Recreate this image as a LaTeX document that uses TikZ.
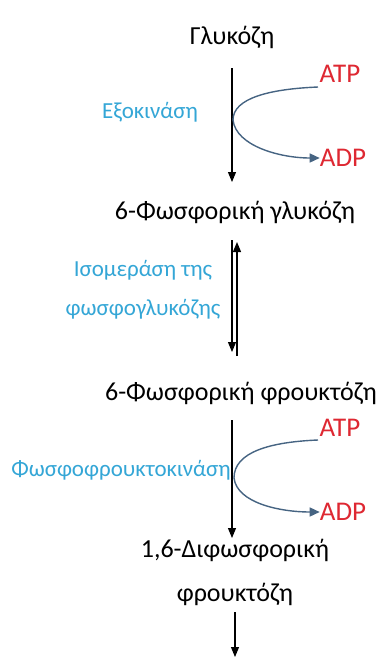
\documentclass[tikz,border=0pt]{standalone}
\usepackage{fontspec}
\setmainfont{Carlito}
\usetikzlibrary{arrows.meta}
\definecolor{enz}{RGB}{52,166,214}
\definecolor{atp}{RGB}{222,40,50}
\definecolor{curv}{RGB}{70,100,130}
\begin{document}
\begin{tikzpicture}[x=1pt,y=-1pt,
  met/.style={font=\fontsize{26}{30}\selectfont, inner sep=0pt, anchor=center},
  enzl/.style={font=\fontsize{23}{26}\selectfont, text=enz, inner sep=0pt, anchor=center, align=center},
  nuc/.style={font=\fontsize{27}{30}\selectfont, text=atp, inner sep=0pt, anchor=center},
  flow/.style={-{Triangle[length=10pt,width=8pt]}, line width=1.1pt},
  side/.style={curv, line width=1.4pt}]
\useasboundingbox (0,0) rectangle (382,657);
\node[met] (glc) at (232,37) {Γλυκόζη};
\node[met] (g6p) at (235,212) {6-Φωσφορική γλυκόζη};
\node[met] (f6p) at (241,393) {6-Φωσφορική φρουκτόζη};
\node[met, align=center] (f16) at (235,572) {1,6-Διφωσφορική\\[14pt]φρουκτόζη};
\node[enzl] (hk) at (150,112) {Εξοκινάση};
\node[enzl] (pgi) at (143,290) {Ισομεράση της\\[13pt]φωσφογλυκόζης};
\node[enzl] (pfk) at (121,470) {Φωσφοφρουκτοκινάση};
\node[nuc] (atp1) at (340,74) {ATP};
\node[nuc] (adp1) at (343,158) {ADP};
\node[nuc] (atp2) at (340,428) {ATP};
\node[nuc] (adp2) at (343,512) {ADP};
\coordinate (a1s) at (232,68);
\coordinate (a1e) at (232,182);
\coordinate (a2s) at (232,240);
\coordinate (a2e) at (232,352);
\coordinate (b2s) at (237,356);
\coordinate (b2e) at (237,242);
\coordinate (a3s) at (232,420);
\coordinate (a3e) at (232,538);
\coordinate (a4s) at (235,612);
\coordinate (a4e) at (235,657);
\coordinate (m1) at (233,120);
\coordinate (m2) at (234,478);
\coordinate (c1) at (318,87);
\coordinate (c2) at (318,440);
\draw[flow] (a1s) -- (a1e);
\draw[flow] (a2s) -- (a2e);
\draw[flow] (b2s) -- (b2e);
\draw[flow] (a3s) -- (a3e);
\draw[flow] (a4s) -- (a4e);
\draw[side] (c1) .. controls (270,89) and (233,98) .. (m1);
\draw[side,-{Triangle[length=10pt,width=9pt]}] (m1) .. controls (236,146) and (280,158) .. (adp1.west);
\draw[side] (c2) .. controls (270,442) and (234,452) .. (m2);
\draw[side,-{Triangle[length=10pt,width=9pt]}] (m2) .. controls (237,503) and (280,512) .. (adp2.west);
\end{tikzpicture}
\end{document}
